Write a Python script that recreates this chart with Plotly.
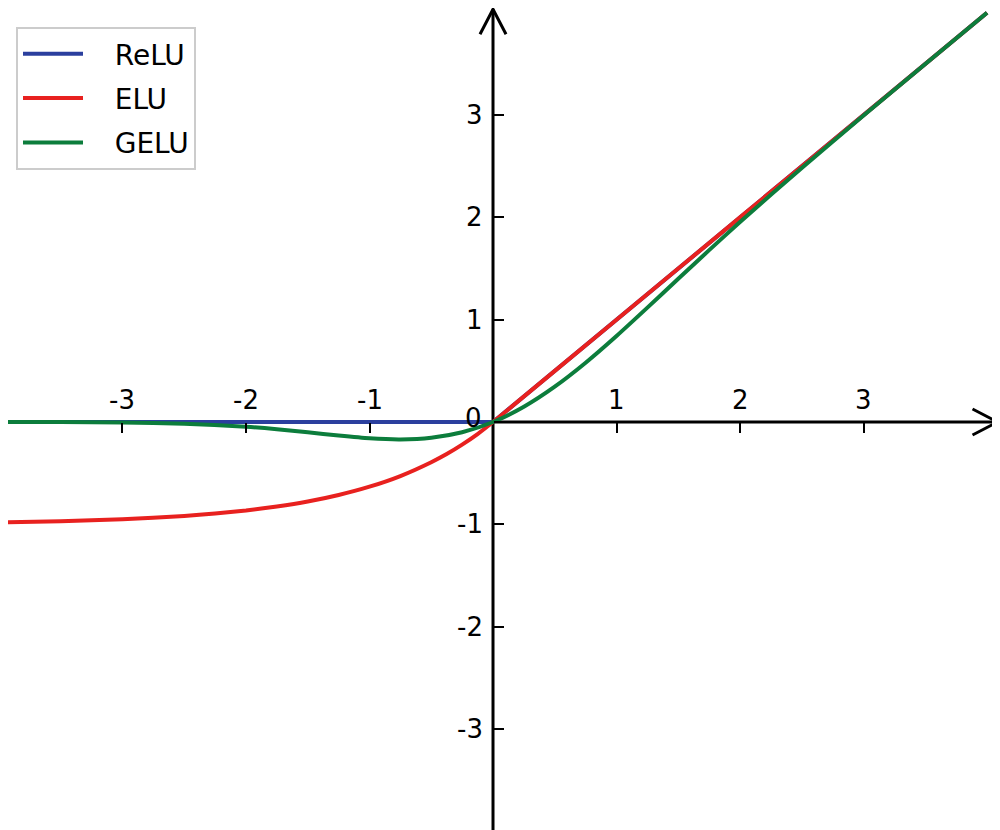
"""
ReLU / ELU / GELU activation functions on centred axes.
"""
import plotly.graph_objects as go

# values
relu_x = [-4.0, 0.0, 4.0]
relu_y = [0.0, 0.0, 4.0]

elu_x = [-4.0, -3.5, -3.0, -2.5, -2.25, -2.0, -1.75, -1.5, -1.25, -1.0, -0.75, -0.5, -0.375, -0.25, -0.125,
         0.0, 1.0, 2.0, 3.0, 4.0]
elu_y = [-0.982, -0.97, -0.95, -0.918, -0.895, -0.865, -0.826, -0.777, -0.713, -0.632, -0.528, -0.393, -0.313,
         -0.221, -0.118, 0.0, 1.0, 2.0, 3.0, 4.0]

gelu_x = [-4.0, -3.5, -3.0, -2.5, -2.0, -1.75, -1.5, -1.25, -1.0, -0.75, -0.5, -0.25, 0.0,
          0.25, 0.5, 0.75, 1.0, 1.25, 1.5, 1.75, 2.0, 2.5, 3.0, 3.5, 4.0]
gelu_y = [0.0, -0.001, -0.004, -0.016, -0.046, -0.07, -0.10, -0.132, -0.159, -0.17, -0.154, -0.10, 0.0,
          0.15, 0.346, 0.58, 0.841, 1.118, 1.40, 1.68, 1.955, 2.484, 2.996, 3.499, 4.0]

x_ticks = [-3, -2, -1, 1, 2, 3]
x_tick_labels = ['-3', '-2', '-1', '1', '2', '3']
y_ticks = [-3, -2, -1, 0, 1, 2, 3]
y_tick_labels = ['-3', '-2', '-1', '0', '1', '2', '3']

# the page body adds an 8px margin, so the figure is 8px smaller than the window
W, H = 992, 822
X_RANGE = [-3.927, 4.105]
Y_RANGE = [-3.988, 4.047]

FONT = 'DejaVu Sans'
AXIS_W = 3
NBSP = '\u00a0'

fig = go.Figure()
fig.add_trace(go.Scatter(x=relu_x, y=relu_y, mode='lines', name=NBSP * 3 + 'ReLU',
                         legendgroup='relu',
                         line=dict(color='#2b3f9e', width=4)))
fig.add_trace(go.Scatter(x=elu_x, y=elu_y, mode='lines', name=NBSP * 3 + 'ELU',
                         legendgroup='elu',
                         line=dict(color='#e8211f', width=4, shape='spline', smoothing=0.5)))
fig.add_trace(go.Scatter(x=gelu_x, y=gelu_y, mode='lines', name=NBSP * 3 + 'GELU',
                         legendgroup='gelu',
                         line=dict(color='#0c7d3c', width=4, shape='spline', smoothing=0.6)))

# position of the data origin inside the plot area (paper fractions)
x0_frac = (0 - X_RANGE[0]) / (X_RANGE[1] - X_RANGE[0])
y0_frac = (0 - Y_RANGE[0]) / (Y_RANGE[1] - Y_RANGE[0])

fig.update_layout(
    width=W, height=H,
    margin=dict(l=0, r=0, t=0, b=0, pad=0),
    paper_bgcolor='white', plot_bgcolor='white',
    font=dict(family=FONT, color='black'),
    xaxis=dict(range=X_RANGE, anchor='free', position=y0_frac, automargin=False,
               showgrid=False, zeroline=False, showline=False,
               tickvals=x_ticks, ticks='outside', ticklen=10, tickwidth=2,
               tickcolor='black', showticklabels=False),
    yaxis=dict(range=Y_RANGE, anchor='free', position=x0_frac, automargin=False,
               showgrid=False, zeroline=False, showline=False,
               tickvals=y_ticks, ticks='inside', ticklen=10, tickwidth=2,
               tickcolor='black', showticklabels=False),
    legend=dict(x=8 / W, y=1 - 19 / H, xanchor='left', yanchor='top',
                bgcolor='white', bordercolor='#cccccc', borderwidth=2,
                font=dict(size=28, family=FONT), itemwidth=60,
                tracegroupgap=5),
    showlegend=True,
)

# tick labels: x labels above the axis, y labels to the left of it
for v, t in zip(x_ticks, x_tick_labels):
    fig.add_annotation(x=v, y=0, text=t, showarrow=False, yshift=22,
                       font=dict(size=26, family=FONT, color='black'))
for v, t in zip(y_ticks, y_tick_labels):
    fig.add_annotation(x=0, y=v, text=t, showarrow=False, xanchor='right',
                       xshift=-9 if v == 0 else -8, yshift=4 if v == 0 else 0,
                       font=dict(size=26, family=FONT, color='black'))

# axis lines with open arrow heads, drawn beneath the curves
tip_x = 4.085
tip_y = 4.035
fig.add_shape(type='line', x0=X_RANGE[0], x1=tip_x, y0=0, y1=0, layer='below',
              line=dict(color='black', width=AXIS_W))
fig.add_shape(type='line', x0=0, x1=0, y0=Y_RANGE[0], y1=tip_y, layer='below',
              line=dict(color='black', width=AXIS_W))
ax_dx = 25 / 123.5
ax_dy = 13 / 102.3
fig.add_shape(type='path', layer='below',
              path=f'M {tip_x - ax_dx} {ax_dy} L {tip_x} 0 L {tip_x - ax_dx} {-ax_dy}',
              line=dict(color='black', width=AXIS_W))
ay_dx = 13 / 123.5
ay_dy = 25 / 102.3
fig.add_shape(type='path', layer='below',
              path=f'M {-ay_dx} {tip_y - ay_dy} L 0 {tip_y} L {ay_dx} {tip_y - ay_dy}',
              line=dict(color='black', width=AXIS_W))

fig.write_html("out.html")
